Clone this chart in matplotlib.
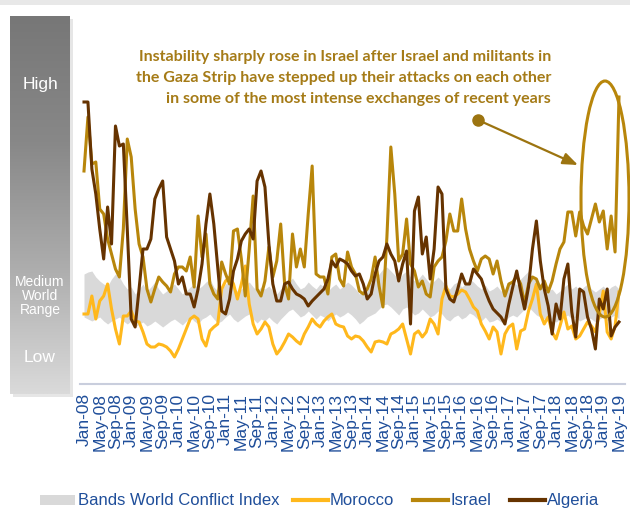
import numpy as np
import matplotlib
matplotlib.use("Agg")
import matplotlib.pyplot as plt
from matplotlib.patches import Ellipse, Rectangle
from matplotlib.lines import Line2D
from matplotlib.colors import LinearSegmentedColormap

# ---- data (index values, higher = more instability) ----
months = ["Jan", "Feb", "Mar", "Apr", "May", "Jun", "Jul", "Aug", "Sep", "Oct", "Nov", "Dec"]
dates = [f"{months[m]}-{y:02d}" for y in range(8, 20) for m in range(12)][:137]
tick_labels = dates[::4]

israel_px = [172, 118, 165, 163, 210, 215, 240, 255, 270, 278, 230, 140, 158, 210, 245, 258, 290, 303, 290, 278,
             283, 287, 293, 275, 268, 268, 272, 258, 288, 217, 258, 235, 285, 295, 300, 263, 275, 285, 232, 230,
             260, 297, 250, 197, 290, 297, 282, 248, 278, 262, 225, 285, 300, 235, 268, 250, 268, 215, 167, 275,
             278, 278, 295, 258, 255, 280, 287, 253, 268, 275, 292, 295, 290, 280, 258, 287, 308, 238, 148, 195,
             262, 255, 220, 265, 272, 288, 282, 295, 298, 268, 262, 258, 242, 215, 232, 232, 200, 230, 250, 262,
             272, 260, 257, 260, 275, 262, 282, 297, 285, 283, 277, 285, 305, 285, 278, 280, 290, 282, 293, 282,
             265, 250, 243, 213, 213, 237, 213, 227, 235, 220, 205, 223, 212, 250, 217, 253, 98]
algeria_px = [103, 103, 170, 195, 230, 260, 208, 245, 127, 147, 145, 230, 320, 328, 290, 250, 250, 240, 200, 190,
              182, 238, 250, 262, 285, 278, 295, 295, 308, 290, 265, 225, 195, 225, 268, 312, 315, 300, 272, 260,
              242, 235, 230, 240, 182, 172, 188, 245, 285, 302, 302, 285, 283, 290, 295, 297, 300, 307, 302, 298,
              294, 290, 280, 262, 268, 260, 262, 265, 272, 277, 275, 285, 300, 295, 275, 262, 258, 245, 255, 262,
              282, 265, 252, 325, 212, 198, 255, 238, 280, 250, 188, 195, 290, 300, 303, 290, 275, 285, 285, 270,
              275, 280, 292, 302, 310, 314, 318, 325, 305, 288, 272, 292, 310, 288, 250, 222, 262, 290, 307, 335,
              305, 320, 280, 265, 313, 338, 290, 293, 318, 330, 350, 300, 310, 290, 337, 328, 323]
morocco_px = [315, 315, 297, 320, 302, 297, 285, 310, 330, 345, 317, 317, 312, 322, 323, 333, 345, 348, 348, 345,
              346, 348, 352, 358, 350, 340, 330, 320, 317, 320, 340, 347, 332, 328, 325, 290, 282, 278, 285, 300,
              285, 267, 305, 325, 335, 330, 323, 328, 345, 355, 350, 343, 335, 338, 342, 345, 335, 328, 320, 325,
              328, 322, 318, 315, 325, 327, 328, 337, 340, 337, 338, 342, 348, 353, 343, 342, 343, 345, 335, 333,
              330, 325, 340, 355, 335, 332, 338, 333, 320, 325, 335, 300, 287, 297, 298, 295, 291, 293, 300, 308,
              312, 325, 332, 340, 328, 333, 355, 335, 328, 325, 350, 332, 330, 312, 300, 285, 315, 325, 318, 333,
              340, 327, 313, 330, 327, 340, 337, 330, 323, 327, 333, 315, 292, 333, 340, 327, 293]
band_upper_px = [275, 273, 272, 278, 282, 285, 287, 280, 275, 278, 285,
                 290, 288, 295, 290, 285, 292, 288, 283, 290, 295, 292, 288,
                 285, 290, 295, 292, 288, 285, 290, 287, 283, 280, 288, 292,
                 290, 285, 282, 288, 292, 290, 286, 283, 288, 292, 288, 290,
                 287, 292, 295, 290, 287, 283, 279, 285, 290, 288, 283, 287,
                 290, 285, 288, 292, 288, 285, 290, 287, 283, 286, 290, 295,
                 292, 288, 284, 280, 275, 270, 268, 272, 276, 282, 275, 272,
                 278, 282, 280, 275, 280, 285, 282, 278, 282, 287, 290, 285,
                 283, 288, 285, 280, 283, 287, 290, 286, 292, 290, 287, 292,
                 290, 285, 282, 286, 280, 276, 272, 278, 282, 285, 288, 292,
                 290, 295, 292, 288, 285, 290, 287, 292, 288, 285, 290, 293,
                 290, 287, 292, 288, 286, 290]
band_lower_px = [318, 320, 322, 320, 318, 322, 325, 322, 320, 318, 322,
                 325, 322, 328, 325, 323, 327, 325, 322, 325, 328, 325, 322,
                 320, 323, 326, 322, 318, 322, 325, 320, 318, 315, 320, 324,
                 322, 318, 315, 320, 323, 320, 317, 315, 320, 324, 320, 322,
                 318, 322, 325, 320, 316, 312, 310, 314, 318, 316, 312, 316,
                 320, 316, 318, 322, 318, 315, 318, 316, 313, 316, 320, 325,
                 322, 318, 316, 314, 310, 306, 305, 308, 312, 316, 310, 308,
                 312, 316, 314, 310, 314, 318, 316, 312, 315, 320, 322, 318,
                 316, 320, 318, 314, 316, 320, 322, 318, 323, 322, 320, 323,
                 322, 318, 316, 318, 314, 310, 308, 312, 316, 318, 320, 322,
                 320, 323, 320, 318, 316, 320, 318, 322, 320, 318, 320, 323,
                 320, 318, 322, 318, 316, 320]

israel = 390 - np.array(israel_px)
algeria = 390 - np.array(algeria_px)
morocco = 390 - np.array(morocco_px)
band_hi = 390 - np.array(band_upper_px)
band_lo = 390 - np.array(band_lower_px)
x = np.arange(len(dates))

series_names = ["Bands World Conflict Index", "Morocco", "Israel", "Algeria"]

C_ISR = "#B8860B"
C_ALG = "#663300"
C_MOR = "#FFB81C"
C_BAND = "#D9D9D9"
C_TXT = "#1F4E9A"
C_ANN = "#A57B17"

W, H = 630, 510
fig = plt.figure(figsize=(W / 100, H / 100), dpi=100)
fig.patch.set_facecolor("white")


def fx(px):
    return px / W


def fy(py):
    return 1 - py / H


# top light strip
fig.patches.append(Rectangle((0, fy(6)), 1, 6 / H, transform=fig.transFigure,
                             facecolor="#E8E8E8", edgecolor="none", zorder=0))

# left bar shadow
fig.patches.append(Rectangle((fx(13), fy(398)), 60 / W, 378 / H, transform=fig.transFigure,
                             facecolor="#E6E6E6", edgecolor="none", zorder=-1))
# left gradient bar
bar_ax = fig.add_axes([fx(10), fy(395), 60 / W, 378 / H])
bar_ax.set_zorder(3)
grad = np.linspace(0, 1, 256).reshape(-1, 1)
cmap = LinearSegmentedColormap.from_list("g", ["#777777", "#888888", "#ADADAD", "#DADADA"])
bar_ax.imshow(grad, aspect="auto", cmap=cmap, extent=(0, 1, 0, 1), origin="upper")
bar_ax.set_xlim(0, 1)
bar_ax.set_ylim(0, 1)
bar_ax.axis("off")
bar_ax.text(0.5, 1 - (85 - 17) / 378, "High", color="white", ha="center", va="center", fontsize=12.5,
            family="Liberation Sans")
bar_ax.text(0.5, 1 - (296 - 17) / 378, "Medium\nWorld\nRange", color="white", ha="center", va="center",
            fontsize=10, family="Liberation Sans", linespacing=1.0)
bar_ax.text(0.5, 1 - (358 - 17) / 378, "Low", color="white", ha="center", va="center", fontsize=12.5,
            family="Liberation Sans")

# main axes
L, R, T, B = 80, 625, 15, 385
ax = fig.add_axes([fx(L), fy(B), (R - L) / W, (B - T) / H])
ax.set_zorder(2)
ax.patch.set_alpha(0)
ppm = (619 - 84) / 136
ax.set_xlim(-(84 - L) / ppm, 136 + (R - 619) / ppm)
ax.set_ylim(390 - B, 390 - T)

ax.fill_between(x, band_lo, band_hi, color=C_BAND, linewidth=0, zorder=1)
ax.plot(x, morocco, color=C_MOR, lw=2.2, zorder=3)
ax.plot(x, israel, color=C_ISR, lw=2.2, zorder=4)
ax.plot(x, algeria, color=C_ALG, lw=2.2, zorder=5)

for s in ["top", "right", "left"]:
    ax.spines[s].set_visible(False)
ax.spines["bottom"].set_color("#C9CEDD")
ax.spines["bottom"].set_linewidth(1.5)
ax.set_yticks([])
ax.set_xticks(x[::4])
ax.set_xticklabels(tick_labels, rotation=90, color=C_TXT, fontsize=12.5, family="Liberation Sans")
ax.tick_params(axis="x", length=0, pad=6)

# annotation: ellipse + arrow
ex = (605 - 84) / ppm
ax.add_patch(Ellipse((ex, 390 - 200), 48 / ppm, 236, fill=False, edgecolor=C_ISR, lw=2.2,
                     clip_on=False, zorder=6))
x0, y0 = (478 - 84) / ppm, 390 - 121
x1, y1 = (578 - 84) / ppm, 390 - 166
ax.annotate("", xy=(x1, y1), xytext=(x0, y0),
            arrowprops=dict(arrowstyle="-|>,head_length=0.9,head_width=0.35", color="#9C7410", lw=1.6,
                            shrinkA=0, shrinkB=0), annotation_clip=False, zorder=6)
ax.plot([x0], [y0], "o", color="#9C7410", ms=8, clip_on=False, zorder=7)

fig.text(fx(551), fy(50),
         "Instability sharply rose in Israel after Israel and militants in\n"
         "the Gaza Strip have stepped up their attacks on each other\n"
         "in some of the most intense exchanges of recent years",
         ha="right", va="top", color=C_ANN, fontsize=11.5, fontweight="bold", family="Lato",
         linespacing=1.62)

# legend (manual, figure pixels)
leg_y = 501
fig.patches.append(Rectangle((fx(40), fy(leg_y + 5)), 35 / W, 10 / H, transform=fig.transFigure,
                             facecolor=C_BAND, edgecolor="none"))
leg_items = [(None, 78, series_names[0]), (C_MOR, 293, series_names[1]),
             (C_ISR, 413, series_names[2]), (C_ALG, 510, series_names[3])]
for col, x_start, lab in leg_items:
    if col is None:
        tx = x_start
    else:
        fig.add_artist(Line2D([fx(x_start), fx(x_start + 35)], [fy(leg_y), fy(leg_y)], color=col, lw=3,
                              transform=fig.transFigure))
        tx = x_start + 37
    fig.text(fx(tx), fy(leg_y), lab, ha="left", va="center", color=C_TXT, fontsize=12,
             family="Liberation Sans")

fig.savefig("out.png", dpi=100)
